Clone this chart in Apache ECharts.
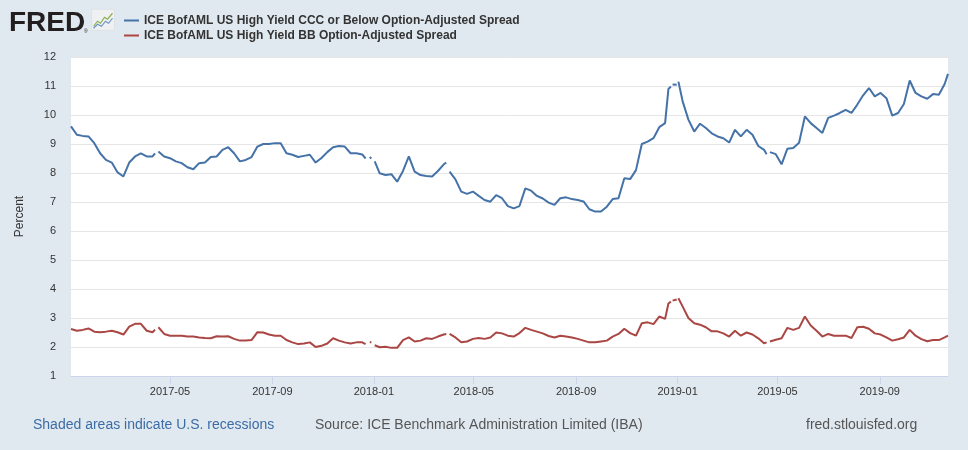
<!DOCTYPE html>
<html><head><meta charset="utf-8">
<script src="https://cdn.jsdelivr.net/npm/echarts@6/dist/echarts.min.js"></script>
<style>html,body{margin:0;padding:0;background:#e1e9f0}#c{width:968px;height:450px}</style>
</head><body><div id="c"></div><script>
// Weekly samples (Mondays) from 2017-01-02
const seriesNames = ['ICE BofAML US High Yield CCC or Below Option-Adjusted Spread', 'ICE BofAML US High Yield BB Option-Adjusted Spread'];
const firstWeek = [2017, 1, 2];
const ccc = [9.61,9.32,9.28,9.26,9.03,8.68,8.45,8.36,8.02,7.88,8.36,8.57,8.68,8.57,8.57,8.74,8.57,8.51,8.4,8.34,
8.2,8.13,8.34,8.36,8.55,8.57,8.8,8.89,8.68,8.4,8.45,8.55,8.91,9.0,9.0,9.03,9.03,8.68,8.63,8.55,
8.59,8.63,8.36,8.52,8.72,8.89,8.93,8.91,8.68,8.68,8.64,null,null,7.99,7.93,7.96,7.7,8.07,8.57,8.05,
7.93,7.9,7.88,8.07,8.3,8.05,7.78,7.36,7.28,7.36,7.21,7.07,7.01,7.24,7.13,6.86,6.78,6.86,7.47,7.39,
7.21,7.12,6.98,6.9,7.13,7.16,7.1,7.07,7.02,6.75,6.67,6.67,6.84,7.1,7.13,7.82,7.79,8.1,9.0,9.08,
9.2,9.58,9.72,10.98,11.04,10.48,9.84,9.43,9.7,9.55,9.37,9.26,9.2,9.05,9.49,9.26,9.49,9.32,8.93,8.8,
8.72,8.65,8.3,8.84,8.86,9.04,9.95,9.72,9.55,9.38,9.9,9.98,10.07,10.18,10.07,10.36,10.68,10.93,10.64,10.76,
10.58,9.98,10.07,10.38,11.19,10.76,10.64,10.56,10.72,10.7,11.07];
const bb = [2.62,2.56,2.59,2.64,2.53,2.51,2.53,2.56,2.51,2.43,2.7,2.8,2.8,2.56,2.51,2.68,2.45,2.39,2.39,2.39,
2.36,2.36,2.33,2.31,2.3,2.37,2.36,2.37,2.28,2.22,2.22,2.24,2.51,2.5,2.43,2.39,2.39,2.24,2.16,2.1,
2.12,2.16,2.0,2.04,2.12,2.3,2.22,2.16,2.12,2.16,2.16,null,null,1.99,2.01,1.97,1.97,2.24,2.33,2.19,
2.22,2.3,2.28,2.36,2.43,2.45,2.33,2.16,2.19,2.28,2.31,2.28,2.33,2.5,2.47,2.39,2.36,2.48,2.66,2.59,
2.53,2.47,2.38,2.33,2.39,2.36,2.33,2.28,2.22,2.16,2.16,2.19,2.22,2.36,2.45,2.63,2.48,2.39,2.82,2.85,
2.79,3.05,2.97,3.57,3.64,3.4,3.0,2.82,2.77,2.68,2.54,2.54,2.47,2.36,2.56,2.39,2.5,2.43,2.3,2.13,
2.19,2.25,2.3,2.66,2.59,2.66,3.05,2.74,2.56,2.36,2.45,2.39,2.39,2.39,2.31,2.68,2.7,2.63,2.47,2.43,
2.33,2.22,2.27,2.33,2.59,2.39,2.27,2.2,2.24,2.24,2.33];
// Extra daily readings around holiday gaps and the final day
const extraDates = ['2017-04-13','2017-04-14','2017-12-22','2017-12-27','2017-12-29','2018-01-02','2018-03-29','2018-03-30',
'2018-12-21','2018-12-25','2018-12-26','2019-01-01','2019-01-02','2019-01-03','2019-04-18','2019-04-19','2019-11-22'];
const extraCcc = [8.68,null,8.5,8.55,8.5,8.4,8.36,null,10.9,null,11.05,null,11.15,11.15,8.65,null,11.42];
const extraBb = [2.6,null,2.1,2.16,2.16,2.06,2.45,null,3.5,null,3.6,null,3.68,3.71,2.16,null,2.39];
const xMin = '2017-01-02';
const xMax = '2019-11-22';
const tickLabels = ['2017-05','2017-09','2018-01','2018-05','2018-09','2019-01','2019-05','2019-09'];
const yMin = 1, yMax = 12, yStep = 1;
const footLeft = 'Shaded areas indicate U.S. recessions';
const footMid = 'Source: ICE Benchmark Administration Limited (IBA)';
const footRight = 'fred.stlouisfed.org';

function parseDay(s) { const p = s.split('-').map(Number); return new Date(p[0], p[1] - 1, p[2] || 1).getTime(); }
const rows = [];
for (let i = 0; i < ccc.length; i++) {
  const t = new Date(firstWeek[0], firstWeek[1] - 1, firstWeek[2] + 7 * i).getTime();
  rows.push([t, ccc[i], bb[i]]);
}
extraDates.forEach((d, k) => rows.push([parseDay(d), extraCcc[k], extraBb[k]]));
rows.sort((a, b) => a[0] - b[0]);
const v = x => (x === null ? '-' : x);
const cccData = rows.map(r => [r[0], v(r[1])]);
const bbData = rows.map(r => [r[0], v(r[2])]);
const tickValues = tickLabels.map(parseDay);

const chart = echarts.init(document.getElementById('c'), null, { renderer: 'canvas' });
const font = '"Liberation Sans", Arial, Helvetica, sans-serif';
chart.setOption({
  backgroundColor: '#e1e9f0',
  animation: false,
  textStyle: { fontFamily: font },
  grid: { left: 71, right: 20, top: 57, bottom: 74, show: true, backgroundColor: '#ffffff', borderWidth: 0 },
  legend: {
    orient: 'vertical', left: 119, top: 9, itemGap: 2, itemWidth: 15, itemHeight: 2, icon: 'rect',
    textStyle: { fontFamily: font, fontSize: 12, fontWeight: 'bold', color: '#333', lineHeight: 13 },
    data: seriesNames
  },
  xAxis: {
    type: 'value', min: parseDay(xMin), max: parseDay(xMax), scale: true,
    axisLine: { lineStyle: { color: '#ccd6eb' } },
    axisTick: { show: true, length: 8, lineStyle: { color: '#ccd6eb' }, customValues: tickValues },
    axisLabel: {
      customValues: tickValues, color: '#333', fontSize: 11, margin: 10, fontFamily: font,
      formatter: val => { const d = new Date(val); return d.getFullYear() + '-' + String(d.getMonth() + 1).padStart(2, '0'); }
    },
    splitLine: { show: false }
  },
  yAxis: {
    type: 'value', min: yMin, max: yMax, interval: yStep,
    name: 'Percent', nameLocation: 'middle', nameGap: 45, nameRotate: 90,
    nameTextStyle: { color: '#333', fontSize: 12, fontFamily: font },
    axisLine: { show: false }, axisTick: { show: false },
    axisLabel: { color: '#333', fontSize: 11, margin: 15, fontFamily: font },
    splitLine: { lineStyle: { color: '#e6e6e6', width: 1 } }
  },
  series: [
    { name: seriesNames[0], type: 'line', data: cccData, showSymbol: false, connectNulls: false,
      lineStyle: { color: '#4572a7', width: 2 }, itemStyle: { color: '#4572a7' } },
    { name: seriesNames[1], type: 'line', data: bbData, showSymbol: false, connectNulls: false,
      lineStyle: { color: '#aa4643', width: 2 }, itemStyle: { color: '#aa4643' } }
  ],
  graphic: [
    { type: 'text', left: 9, top: 9, style: { text: 'FRED', font: 'bold 28px ' + font, fill: '#231f20' } },
    { type: 'text', left: 84, top: 29, style: { text: '®', font: '5px ' + font, fill: '#231f20' } },
    { type: 'group', left: 91, top: 9, children: [
      { type: 'rect', shape: { x: 0, y: 0, width: 23, height: 21, r: 2 }, style: { fill: '#eef0f2', stroke: '#d5d9dd', lineWidth: 0.5 } },
      { type: 'polyline', shape: { points: [[2, 17], [6, 12], [9, 14], [13, 8], [16, 10], [21, 4]] }, style: { stroke: '#8bb04f', lineWidth: 1.2, fill: null } },
      { type: 'polyline', shape: { points: [[2, 19], [6, 15], [10, 17], [14, 12], [17, 14], [21, 9]] }, style: { stroke: '#6e95c0', lineWidth: 1.2, fill: null } }
    ] },
    { type: 'text', left: 33, top: 418, style: { text: footLeft, font: '14px ' + font, fill: '#3c6ca5' } },
    { type: 'text', left: 315, top: 418, style: { text: footMid, font: '14px ' + font, fill: '#555' } },
    { type: 'text', left: 806, top: 418, style: { text: footRight, font: '14px ' + font, fill: '#555' } }
  ]
});
</script></body></html>
